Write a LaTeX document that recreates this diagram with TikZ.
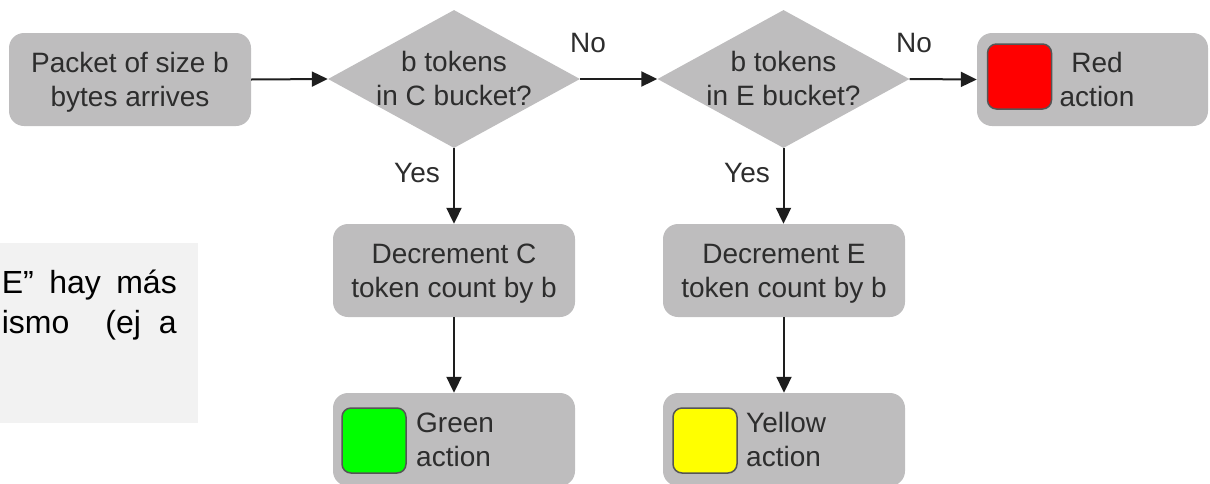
\documentclass[tikz,border=0pt]{standalone}
\usepackage{fontspec}
\setmainfont{Liberation Sans}
\usetikzlibrary{shapes.geometric,arrows.meta}
\definecolor{boxgray}{RGB}{190,189,190}
\definecolor{txtgray}{RGB}{45,45,45}
\definecolor{linegray}{RGB}{30,30,30}
\definecolor{bordergray}{RGB}{85,85,85}
\definecolor{notegray}{RGB}{242,242,242}
\definecolor{sqred}{RGB}{255,0,0}
\definecolor{sqgreen}{RGB}{0,255,0}
\definecolor{sqyellow}{RGB}{255,255,0}
\tikzset{
  boxshape/.style={draw=none, fill=boxgray, rounded corners=15pt, minimum width=242pt, minimum height=93pt, inner sep=0pt},
  decision/.style={diamond, draw=none, fill=boxgray, minimum width=252pt, minimum height=138pt, inner sep=0pt},
  lbl/.style={font=\fontsize{28}{34}\selectfont, text=txtgray, inner sep=0pt, yshift=-3pt},
  edgelbl/.style={font=\fontsize{28}{34}\selectfont, text=txtgray, inner sep=0pt, anchor=base},
  colsq/.style={draw=bordergray, line width=1.5pt, rounded corners=9pt, minimum width=64pt, minimum height=65pt, inner sep=0pt},
  flow/.style={draw=linegray, line width=2pt, -{Triangle[length=16pt,width=15pt]}},
  notetxt/.style={font=\fontsize{32}{38}\selectfont, text=black, inner sep=0pt, anchor=base east}
}
\begin{document}
\begin{tikzpicture}[x=1pt,y=-1pt]
\useasboundingbox (0,0) rectangle (1210,483);
\clip (0,0) rectangle (1210,483);
% note fragment on the left
\node[fill=notegray, minimum width=199pt, minimum height=180pt, inner sep=0pt, anchor=north west] (note) at (-1,243) {};
\node[notetxt] (note1) at (177,293) {\makebox[175pt][s]{E” hay más}};
\node[notetxt] (note2) at (177,333) {\makebox[175pt][s]{ismo\ \ (ej a}};
% shapes
\node[boxshape] (start) at (130,79.5) {};
\node[decision] (d1) at (454,79) {};
\node[decision] (d2) at (783.5,79) {};
\node[boxshape, minimum width=231pt] (red) at (1092.5,79.5) {};
\node[boxshape] (decC) at (454,270.5) {};
\node[boxshape] (decE) at (784,270.5) {};
\node[boxshape] (green) at (454,439.5) {};
\node[boxshape] (yellow) at (784,439.5) {};
% colour squares
\node[colsq, fill=sqred] (sqR) at (1019.5,76.5) {};
\node[colsq, fill=sqgreen] (sqG) at (374,440.5) {};
\node[colsq, fill=sqyellow] (sqY) at (705,440.5) {};
% texts
\node[lbl, align=center] (tstart) at (start) {\strut Packet of size b\\\strut bytes arrives};
\node[lbl, align=center] (td1) at (d1) {\strut b tokens\\\strut in C bucket?};
\node[lbl, align=center] (td2) at (d2) {\strut b tokens\\\strut in E bucket?};
\node[lbl, align=center] (tred) at (1097,79.5) {\strut Red\\\strut action};
\node[lbl, align=center] (tdecC) at (decC) {\strut Decrement C\\\strut token count by b};
\node[lbl, align=center] (tdecE) at (decE) {\strut Decrement E\\\strut token count by b};
\node[lbl, align=left, anchor=west] (tgreen) at (416,439.5) {\strut Green\\\strut action};
\node[lbl, align=left, anchor=west] (tyellow) at (746,439.5) {\strut Yellow\\\strut action};
% connectors
\draw[flow] (start.east) -- (d1.west);
\draw[flow] (d1.east) -- (d2.west);
\draw[flow] (d2.east) -- (red.west);
\draw[flow] (d1.south) -- (decC.north);
\draw[flow] (decC.south) -- (green.north);
\draw[flow] (d2.south) -- (decE.north -| d2.south);
\draw[flow] (decE.south) -- (yellow.north);
% edge labels
\node[edgelbl] (no1) at (588,52) {No};
\node[edgelbl] (no2) at (914,52) {No};
\node[edgelbl] (yes1) at (417,182) {Yes};
\node[edgelbl] (yes2) at (747,182) {Yes};
\end{tikzpicture}
\end{document}
